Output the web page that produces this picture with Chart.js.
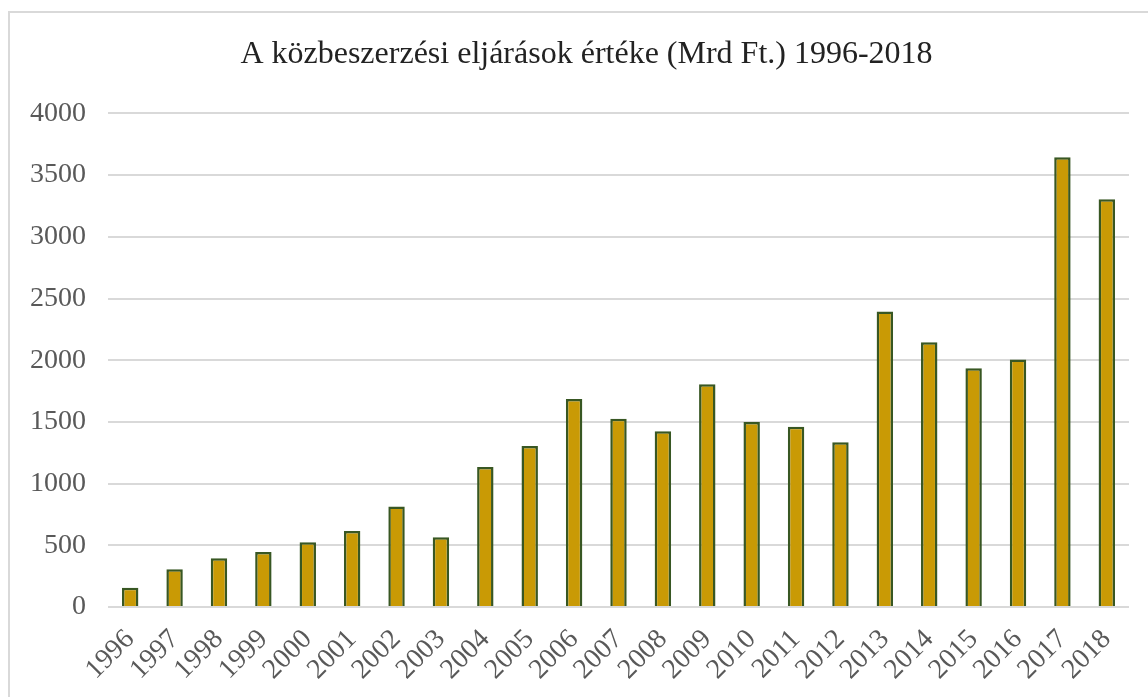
<!DOCTYPE html>
<html>
<head>
<meta charset="utf-8">
<script src="https://cdn.jsdelivr.net/npm/chart.js@4"></script>
<style>
  html, body { margin: 0; padding: 0; background: #fff; overflow: hidden; }
  #keret { position: absolute; left: 8px; top: 11px; width: 2000px; height: 2000px; border: 2px solid #d9d9d9; }
  #grafikon { position: absolute; left: 0; top: 0; }
</style>
</head>
<body>
<div id="keret"></div>
<canvas id="grafikon" width="1148" height="697"></canvas>
<script>
// évek és értékek (Mrd Ft.)
const evek = ['1996', '1997', '1998', '1999', '2000', '2001', '2002', '2003', '2004', '2005', '2006', '2007',
  '2008', '2009', '2010', '2011', '2012', '2013', '2014', '2015', '2016', '2017', '2018'];
const ertekek = [155, 305, 395, 445, 525, 615, 815, 565, 1135, 1305, 1685, 1525,
  1425, 1805, 1500, 1460, 1335, 2395, 2145, 1935, 2005, 3645, 3305];
const yTickek = [0, 500, 1000, 1500, 2000, 2500, 3000, 3500, 4000];

const betu = "'Liberation Serif', 'Times New Roman', serif";

// a cím kicsit jobbra van az eredetin (a diagram jobb széle le van vágva)
const cimEltolas = {
  id: 'cimEltolas',
  afterLayout(chart) {
    const t = chart.titleBlock;
    if (t) { t.left += 12; t.right += 12; }
  }
};

const ctx = document.getElementById('grafikon').getContext('2d');

new Chart(ctx, {
  type: 'bar',
  data: {
    labels: evek,
    datasets: [{
      data: ertekek,
      backgroundColor: '#C99A05',
      borderColor: '#385723',
      borderWidth: 2.5,
      barPercentage: 0.37,
      categoryPercentage: 1
    }]
  },
  plugins: [cimEltolas],
  options: {
    responsive: false,
    animation: false,
    layout: { padding: { left: 20, right: 19, top: 0, bottom: 0 } },
    plugins: {
      legend: { display: false },
      tooltip: { enabled: false },
      title: {
        display: true,
        text: 'A közbeszerzési eljárások értéke (Mrd Ft.) 1996-2018',
        color: '#222',
        font: { family: betu, size: 32, weight: 'normal' },
        padding: { top: 35, bottom: 40 }
      }
    },
    scales: {
      x: {
        grid: { display: false },
        border: { display: false },
        ticks: {
          color: '#595959',
          font: { family: betu, size: 28 },
          autoSkip: false,
          maxRotation: 45,
          minRotation: 45,
          padding: 8
        },
        afterFit: s => { s.height = 90; }
      },
      y: {
        min: 0,
        max: 4000,
        afterBuildTicks: s => { s.ticks = yTickek.map(v => ({ value: v })); },
        grid: { color: '#d9d9d9', lineWidth: 2, drawTicks: false },
        border: { display: false },
        ticks: {
          color: '#595959',
          font: { family: betu, size: 28 },
          padding: 22,
          callback: v => String(v)
        },
        afterFit: s => { s.width = 88; }
      }
    }
  }
});
</script>
</body>
</html>
